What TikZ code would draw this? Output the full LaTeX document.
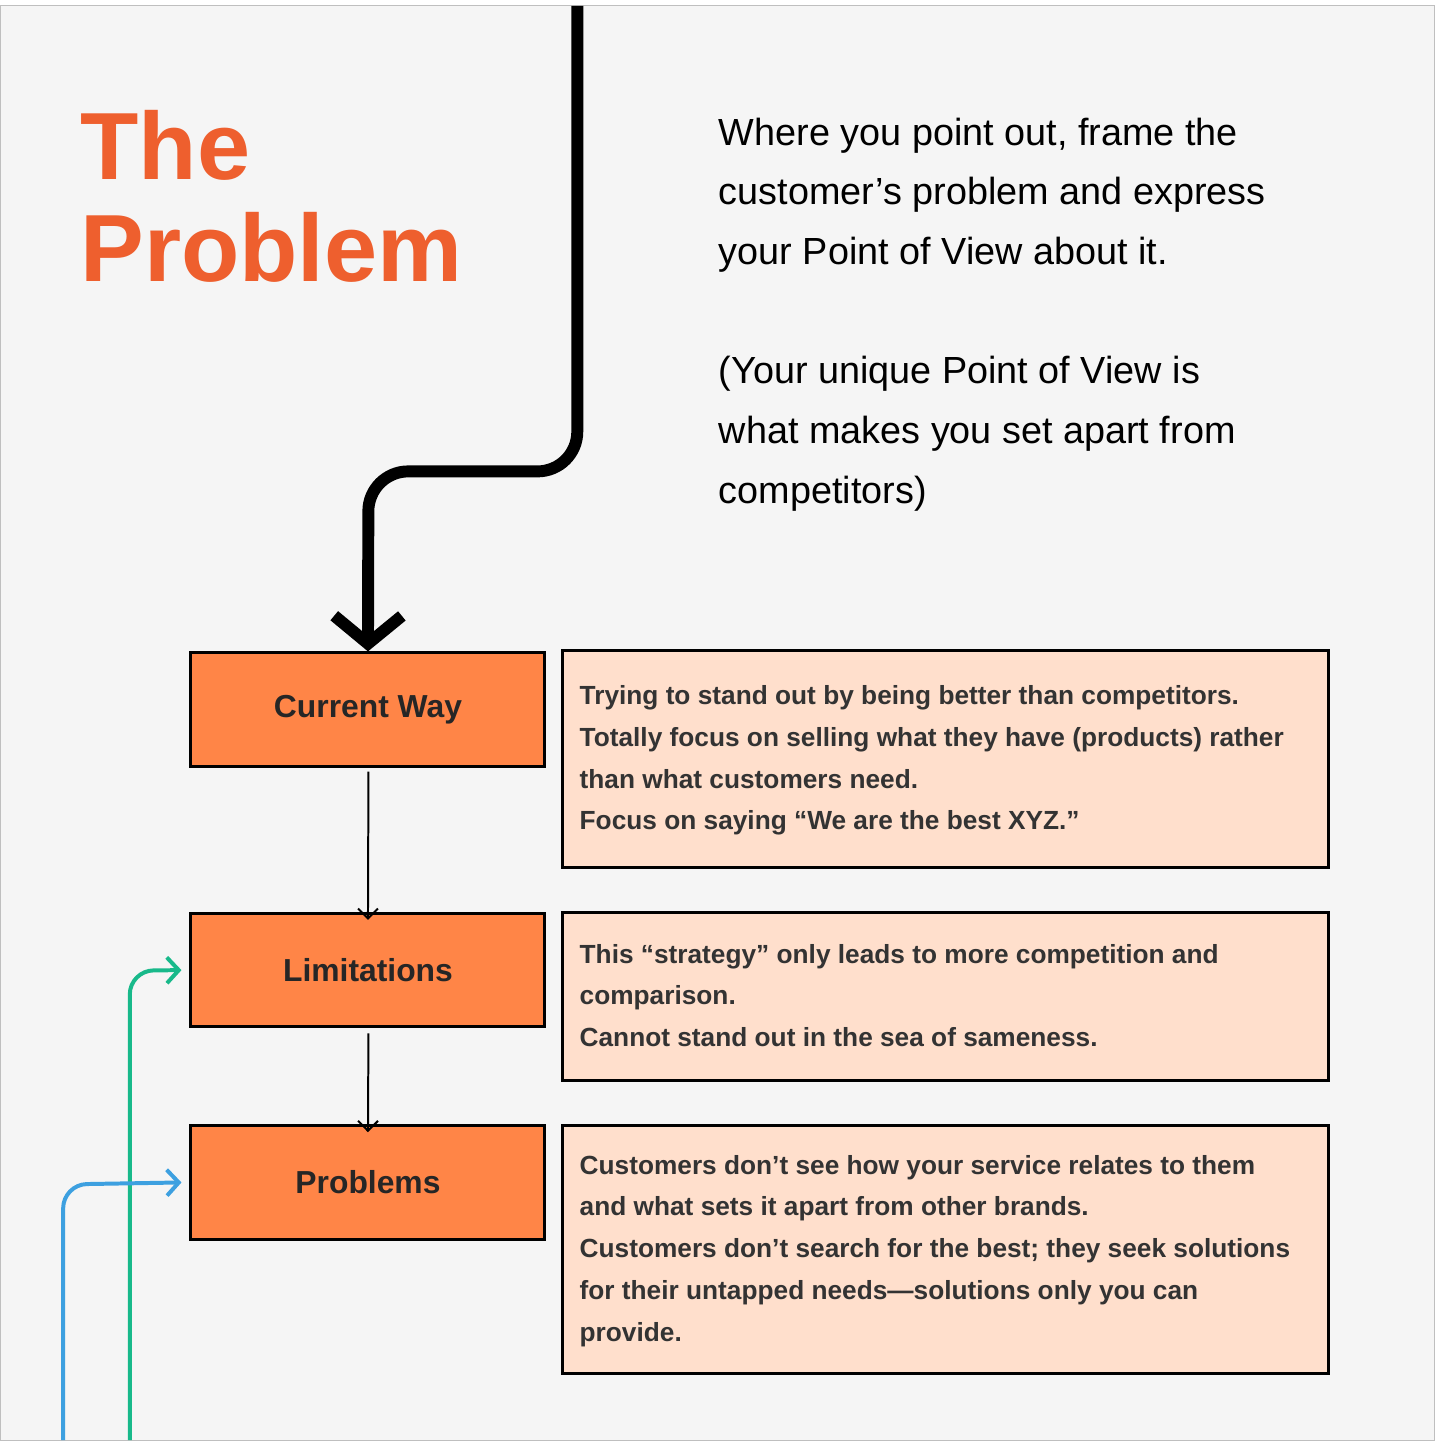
\documentclass[tikz,border=0pt]{standalone}
\usepackage{fontspec}
\setmainfont{Liberation Sans}
\usetikzlibrary{arrows.meta}
\definecolor{bg}{HTML}{F5F5F5}
\definecolor{ttl}{HTML}{EE5F2E}
\definecolor{box}{HTML}{FF8547}
\definecolor{note}{HTML}{FFDFCC}
\definecolor{grn}{HTML}{18B98A}
\definecolor{blu}{HTML}{3DA0E0}
\begin{document}
\begin{tikzpicture}[x=0.5pt,y=-0.5pt,
  lab/.style={draw=black,line width=1.5pt,fill=box,minimum width=178pt,minimum height=57pt,font=\fontsize{16}{19}\selectfont\bfseries,text=black!85},
  nt/.style={draw=black,line width=1.5pt,fill=note},
  ntxt/.style={anchor=north west,align=left,font=\fontsize{13.2}{21}\selectfont\bfseries,text=black!80,inner sep=0pt},
  thin/.style={line width=1pt,-{Straight Barb[length=5pt,width=10pt]}},
  col/.style={line width=2pt,rounded corners=12pt,-{Straight Barb[length=6pt,width=13pt,line width=2pt]}}]
\fill[bg,draw=black!25,line width=0.5pt] (0,0) rectangle (1442,1442);
\node[anchor=north west,align=left,text=ttl,font=\fontsize{48}{51}\selectfont\bfseries,inner sep=0pt] (title) at (80,105) {The\\Problem};
\node[anchor=north west,align=left,font=\fontsize{19}{30}\selectfont,inner sep=0pt] (desc) at (722,112) {Where you point out, frame the\\customer’s problem and express\\your Point of View about it.\\[30pt](Your unique Point of View is\\what makes you set apart from\\competitors)};
\node[lab] (cw) at (369.5,707.5) {Current Way};
\node[lab] (lim) at (369.5,969.5) {Limitations};
\node[lab] (pr) at (369.5,1183) {Problems};
\node[nt,minimum width=385pt,minimum height=109pt] (n1) at (950,757) {};
\node[nt,minimum width=385pt,minimum height=84pt] (n2) at (950,996) {};
\node[nt,minimum width=385pt,minimum height=124.5pt] (n3) at (950,1250.5) {};
\node[ntxt] at (582,683) {Trying to stand out by being better than competitors.\\Totally focus on selling what they have (products) rather\\than what customers need.\\Focus on saying “We are the best XYZ.”};
\node[ntxt] at (582,943) {This “strategy” only leads to more competition and\\comparison.\\Cannot stand out in the sea of sameness.};
\node[ntxt] at (582,1155) {Customers don’t see how your service relates to them\\and what sets it apart from other brands.\\Customers don’t search for the best; they seek solutions\\for their untapped needs—solutions only you can\\provide.};
\coordinate (top) at (580,0);
\draw[line width=6pt,rounded corners=20pt,-{Straight Barb[length=14pt,width=34pt,line width=6pt]}] (top) -- (580,468) -- (370,468) -- (cw.north);
\draw[thin] (370,770) -- ([yshift=-4pt]lim.north);
\draw[thin] (370,1033) -- ([yshift=-4pt]pr.north);
\coordinate (g0) at (130,1442);
\coordinate (b0) at (63,1442);
\draw[col,grn] (g0) -- (130,970) -- ([xshift=-4pt]lim.west);
\draw[col,blu] (b0) -- (63,1185) -- ([xshift=-4pt]pr.west);
\end{tikzpicture}
\end{document}
